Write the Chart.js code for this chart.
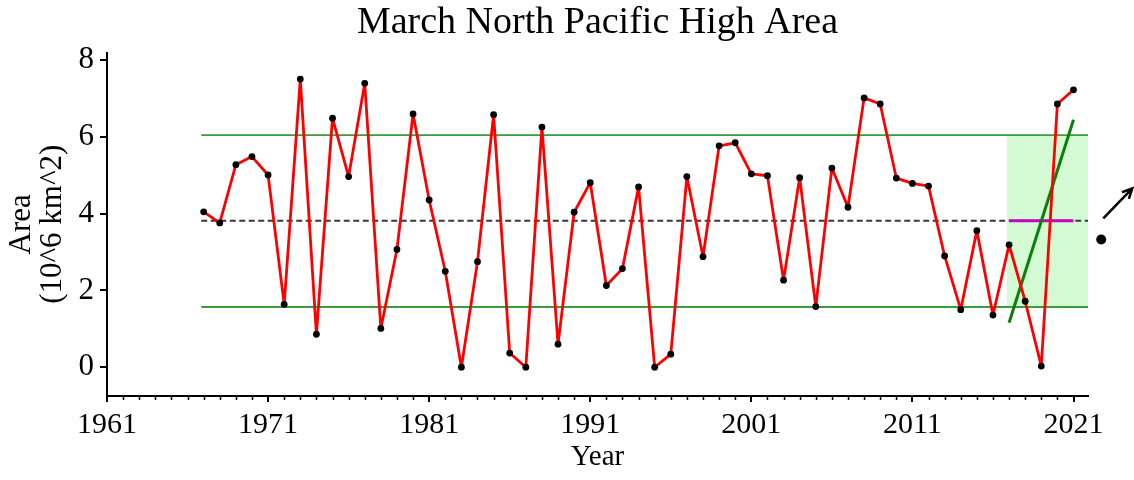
<!DOCTYPE html>
<html>
<head>
<meta charset="utf-8">
<title>March North Pacific High Area</title>
<script src="https://cdn.jsdelivr.net/npm/chart.js@4/dist/chart.umd.min.js"></script>
<style>
  html, body { margin: 0; padding: 0; background: #ffffff; }
  #wrap { width: 1134px; height: 480px; }
</style>
</head>
<body>
<div id="wrap"><canvas id="c" width="1134" height="480"></canvas></div>
<script>
// March area of the North Pacific High, 10^6 km^2
const years = [
  1967, 1968, 1969, 1970, 1971, 1972, 1973, 1974, 1975, 1976,
  1977, 1978, 1979, 1980, 1981, 1982, 1983, 1984, 1985, 1986,
  1987, 1988, 1989, 1990, 1991, 1992, 1993, 1994, 1995, 1996,
  1997, 1998, 1999, 2000, 2001, 2002, 2003, 2004, 2005, 2006,
  2007, 2008, 2009, 2010, 2011, 2012, 2013, 2014, 2015, 2016,
  2017, 2018, 2019, 2020, 2021
];
const areas = [
  4.05, 3.76, 5.28, 5.49, 5.01, 1.64, 7.51, 0.86, 6.49, 4.97,
  7.40, 1.01, 3.07, 6.60, 4.36, 2.50, 0.00, 2.75, 6.58, 0.37,
  0.00, 6.26, 0.60, 4.04, 4.81, 2.13, 2.57, 4.70, 0.00, 0.34,
  4.97, 2.88, 5.77, 5.85, 5.04, 4.99, 2.27, 4.94, 1.58, 5.19,
  4.17, 7.02, 6.86, 4.93, 4.79, 4.72, 2.90, 1.50, 3.56, 1.36,
  3.19, 1.72, 0.03, 6.86, 7.23
];

// climatology: long-term mean and the upper / lower bounds
const meanArea = 3.82;
const upperBound = 6.05;
const lowerBound = 1.57;
const referenceSpan = [1966.85, 2021.9];

// last five years: window, mean and linear trend end values
const recentWindow = [2016.85, 2021.9];
const recentYears = [2017, 2021];
const recentMean = [3.82, 3.82];
const recentTrend = [1.16, 6.45];

// status marker to the right of the plot: latest mean and trend direction
const statusDot = [2022.72, 3.33];
const trendArrowYears = [2022.85, 2024.65];
const trendArrowValues = [3.88, 4.66];

// axis ticks
const xTickYears = [1961, 1971, 1981, 1991, 2001, 2011, 2021];
const yTickValues = [0, 2, 4, 6, 8];
const firstYear = 1961;
const lastYear = 2021;

const SERIF = "'Liberation Serif', 'Times New Roman', serif";

const pts = (xs, ys) => xs.map((x, i) => ({ x: x, y: ys[i] }));

// yearly minor ticks, plus the status dot and trend arrow beside the plot,
// all placed through the chart scales
const extrasPlugin = {
  id: 'extras',
  afterDraw(chart) {
    const { ctx, chartArea, scales } = chart;
    const xs = scales.x, ys = scales.y;
    ctx.save();
    ctx.strokeStyle = '#000';
    ctx.fillStyle = '#000';
    ctx.lineWidth = 1.5;
    ctx.beginPath();
    for (let yr = firstYear; yr <= lastYear; yr++) {
      if (xTickYears.includes(yr)) continue;
      const px = Math.round(xs.getPixelForValue(yr)) + 0.5;
      ctx.moveTo(px, chartArea.bottom);
      ctx.lineTo(px, chartArea.bottom + 4);
    }
    ctx.stroke();

    ctx.beginPath();
    ctx.arc(xs.getPixelForValue(statusDot[0]), ys.getPixelForValue(statusDot[1]), 5, 0, Math.PI * 2);
    ctx.fill();

    const x0 = xs.getPixelForValue(trendArrowYears[0]);
    const y0 = ys.getPixelForValue(trendArrowValues[0]);
    const x1 = xs.getPixelForValue(trendArrowYears[1]);
    const y1 = ys.getPixelForValue(trendArrowValues[1]);
    const ang = Math.atan2(y1 - y0, x1 - x0);
    const head = 11;
    ctx.lineWidth = 2.5;
    ctx.beginPath();
    ctx.moveTo(x0, y0);
    ctx.lineTo(x1, y1);
    ctx.moveTo(x1 - head * Math.cos(ang - 0.45), y1 - head * Math.sin(ang - 0.45));
    ctx.lineTo(x1, y1);
    ctx.lineTo(x1 - head * Math.cos(ang + 0.45), y1 - head * Math.sin(ang + 0.45));
    ctx.stroke();
    ctx.restore();
  }
};

new Chart(document.getElementById('c'), {
  type: 'line',
  data: {
    datasets: [
      {
        label: 'Area',
        data: pts(years, areas),
        borderColor: '#ff0000',
        borderWidth: 2.8,
        borderJoinStyle: 'round',
        pointRadius: 3.4,
        pointBackgroundColor: '#000',
        pointBorderWidth: 0,
        tension: 0,
        order: 1
      },
      {
        label: 'Recent trend',
        data: pts(recentYears, recentTrend),
        borderColor: '#0a800a',
        borderWidth: 3,
        pointRadius: 0,
        order: 2
      },
      {
        label: 'Recent mean',
        data: pts(recentYears, recentMean),
        borderColor: '#c800c8',
        borderWidth: 3,
        pointRadius: 0,
        order: 3
      },
      {
        label: 'Mean',
        data: pts(referenceSpan, [meanArea, meanArea]),
        borderColor: '#383838',
        borderWidth: 2,
        borderDash: [6, 3.5],
        pointRadius: 0,
        order: 4
      },
      {
        label: 'Upper',
        data: pts(referenceSpan, [upperBound, upperBound]),
        borderColor: '#3a9c3a',
        borderWidth: 1.8,
        pointRadius: 0,
        order: 5
      },
      {
        label: 'Lower',
        data: pts(referenceSpan, [lowerBound, lowerBound]),
        borderColor: '#3a9c3a',
        borderWidth: 1.8,
        pointRadius: 0,
        order: 6
      },
      {
        label: 'Recent window',
        data: pts(recentWindow, [upperBound, upperBound]),
        borderWidth: 0,
        borderColor: 'rgba(0,0,0,0)',
        backgroundColor: '#d4fad4',
        fill: { value: lowerBound },
        pointRadius: 0,
        order: 7
      }
    ]
  },
  options: {
    responsive: false,
    animation: false,
    devicePixelRatio: 1,
    layout: { padding: { left: 0, right: 46, top: 0, bottom: 0 } },
    plugins: {
      legend: { display: false },
      tooltip: { enabled: false },
      title: {
        display: true,
        text: 'March North Pacific High Area',
        fullSize: false,
        color: '#000',
        font: { family: SERIF, size: 38, weight: 'normal', lineHeight: 1.2 },
        padding: { top: 0, bottom: 7 }
      }
    },
    scales: {
      x: {
        type: 'linear',
        min: firstYear,
        max: 2021.9,
        afterBuildTicks: (s) => { s.ticks = xTickYears.map(v => ({ value: v })); },
        afterFit: (s) => { s.height = 84; },
        grid: { drawOnChartArea: false, drawTicks: true, tickLength: 6, color: '#000', lineWidth: 2 },
        border: { display: true, color: '#000', width: 2 },
        ticks: {
          color: '#000',
          autoSkip: false,
          maxRotation: 0,
          padding: 5,
          font: { family: SERIF, size: 30, weight: 'normal' },
          callback: (v) => String(v)
        },
        title: {
          display: true,
          text: 'Year',
          color: '#000',
          font: { family: SERIF, size: 29, weight: 'normal', lineHeight: 1.2 },
          padding: { top: 0, bottom: 5 }
        }
      },
      y: {
        type: 'linear',
        min: -0.75,
        max: 8.2,
        afterBuildTicks: (s) => { s.ticks = yTickValues.map(v => ({ value: v })); },
        afterFit: (s) => { s.width = 107; },
        grid: { drawOnChartArea: false, drawTicks: true, tickLength: 7, color: '#000', lineWidth: 2 },
        border: { display: true, color: '#000', width: 2 },
        ticks: {
          color: '#000',
          padding: 6,
          font: { family: SERIF, size: 31, weight: 'normal' },
          callback: (v) => String(v)
        },
        title: {
          display: true,
          text: ['Area', '(10^6 km^2)'],
          color: '#000',
          font: { family: SERIF, size: 31, weight: 'normal', lineHeight: 1.0 },
          padding: { top: 6, bottom: 0 }
        }
      }
    }
  },
  plugins: [extrasPlugin]
});
</script>
</body>
</html>
